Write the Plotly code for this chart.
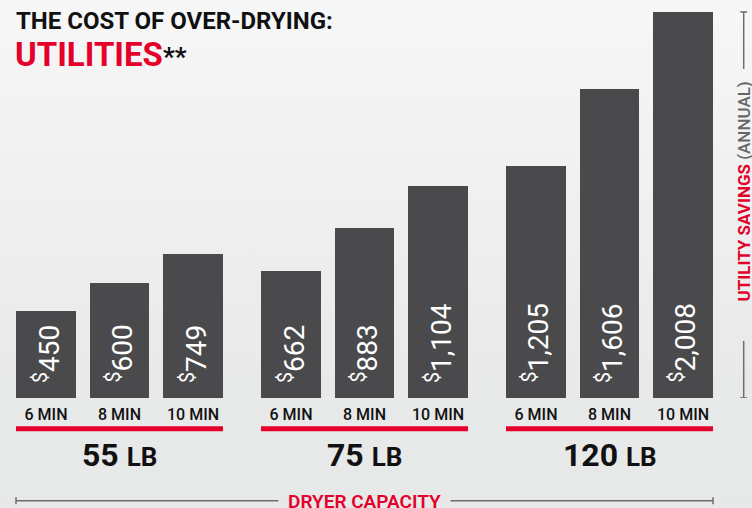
import base64
import plotly.graph_objects as go

# ---------------- data ----------------
capacities = ["55", "75", "120"]
capacity_unit = "LB"
durations = ["6 MIN", "8 MIN", "10 MIN"]
savings_55lb = [450, 600, 749]
savings_75lb = [662, 883, 1104]
savings_120lb = [1205, 1606, 2008]
title_line1 = "THE COST OF OVER-DRYING:"
title_line2 = "UTILITIES"
y_title_main = "UTILITY SAVINGS"
y_title_sub = "(ANNUAL)"
x_title = "DRYER CAPACITY"

series = [savings_55lb, savings_75lb, savings_120lb]

# ---------------- style / layout ----------------
W, H = 752, 508
PLOT_BOTTOM_PX = 398
BAR_COLOR = "#4a4a4c"
RED = "#e5002b"
FONT = "Roboto"
GROUP_GAP = 1 / 3
BAR_W = 0.816
PX_PER_UNIT = 73.5
X_ORIGIN_PX = 46
Y_MAX = 2070

def px_to_paper_y(py):
    return (PLOT_BOTTOM_PX - py) / PLOT_BOTTOM_PX

def px_to_paper_x(px):
    return px / W

n = len(durations)
xs, ys, labels = [], [], []
for g, vals in enumerate(series):
    for i, v in enumerate(vals):
        xs.append(g * (n + GROUP_GAP) + i)
        ys.append(v)
        labels.append(durations[i])

fig = go.Figure()
fig.add_trace(go.Bar(x=xs, y=ys, width=BAR_W, marker=dict(color=BAR_COLOR, line=dict(width=0)),
                     hoverinfo="skip", showlegend=False))

annotations = []
# value labels inside bars
for x, v in zip(xs, ys):
    annotations.append(dict(
        x=x, y=0, xref="x", yref="y", text=f"<sup>$</sup>{v:,}", textangle=-90,
        showarrow=False, xanchor="center", yanchor="bottom", yshift=14, xshift=1,
        font=dict(family=FONT, size=28, color="white"), borderpad=0))

# group labels
for g, cap in enumerate(capacities):
    cx = g * (n + GROUP_GAP) + (n - 1) / 2
    annotations.append(dict(
        x=cx, y=px_to_paper_y(455), xref="x", yref="paper",
        text=f"{cap} <span style='font-size:26px'>{capacity_unit}</span>",
        showarrow=False, xanchor="center", yanchor="middle",
        font=dict(family=FONT, size=32, color="#111", weight=700)))

# titles
annotations.append(dict(x=px_to_paper_x(15), y=px_to_paper_y(21), xref="paper", yref="paper",
                        text=title_line1, showarrow=False, xanchor="left", yanchor="middle",
                        borderpad=0, font=dict(family=FONT, size=24, color="#111", weight=700)))
annotations.append(dict(x=px_to_paper_x(14), y=px_to_paper_y(54), xref="paper", yref="paper",
                        text=f"{title_line2}<span style='font-size:26px;color:#111'>**</span>",
                        showarrow=False, xanchor="left", yanchor="middle",
                        borderpad=0, font=dict(family=FONT, size=33, color=RED, weight=700)))

# right axis title
vmax = max(ys)
annotations.append(dict(x=px_to_paper_x(743.5), y=vmax / 2, xref="paper", yref="y",
                        text=f"<b>{y_title_main}</b> <span style='color:#666'>{y_title_sub}</span>",
                        textangle=-90, showarrow=False, xanchor="center", yanchor="middle",
                        borderpad=0, yshift=13,
                        font=dict(family=FONT, size=17, color=RED, weight=500)))

# bottom axis title
x_left = xs[0] - BAR_W / 2
x_right = xs[-1] + BAR_W / 2
x_mid = (x_left + x_right) / 2
annotations.append(dict(x=x_mid, y=px_to_paper_y(501), xref="x", yref="paper",
                        text=x_title, showarrow=False, xanchor="center", yanchor="middle",
                        font=dict(family=FONT, size=19, color=RED, weight=600)))

shapes = []
LINE_GREY = "#6e6e6e"
# red underline per group
for g in range(len(capacities)):
    x0 = g * (n + GROUP_GAP) - BAR_W / 2
    x1 = g * (n + GROUP_GAP) + (n - 1) + BAR_W / 2
    shapes.append(dict(type="line", xref="x", yref="paper", x0=x0, x1=x1,
                       y0=px_to_paper_y(428.7), y1=px_to_paper_y(428.7),
                       line=dict(color=RED, width=5)))

# bottom dimension line
half_gap_x = 86 / PX_PER_UNIT
yb = px_to_paper_y(500.7)
shapes += [
    dict(type="line", xref="x", yref="paper", x0=x_left, x1=x_mid - half_gap_x, y0=yb, y1=yb,
         line=dict(color=LINE_GREY, width=1.5)),
    dict(type="line", xref="x", yref="paper", x0=x_mid + half_gap_x, x1=x_right, y0=yb, y1=yb,
         line=dict(color=LINE_GREY, width=1.5)),
    dict(type="line", xref="x", yref="paper", x0=x_left, x1=x_left,
         y0=yb - 3.5 / PLOT_BOTTOM_PX, y1=yb + 3.5 / PLOT_BOTTOM_PX, line=dict(color=LINE_GREY, width=1.5)),
    dict(type="line", xref="x", yref="paper", x0=x_right, x1=x_right,
         y0=yb - 3.5 / PLOT_BOTTOM_PX, y1=yb + 3.5 / PLOT_BOTTOM_PX, line=dict(color=LINE_GREY, width=1.5)),
]

# right dimension line
xr = px_to_paper_x(743.7)
half_gap_y = 136 * Y_MAX / PLOT_BOTTOM_PX
ymid = vmax / 2
tick_dx = 3.5 / W
shapes += [
    dict(type="line", xref="paper", yref="y", x0=xr, x1=xr, y0=0, y1=ymid - half_gap_y,
         line=dict(color=LINE_GREY, width=1.5)),
    dict(type="line", xref="paper", yref="y", x0=xr, x1=xr, y0=ymid + half_gap_y, y1=vmax,
         line=dict(color=LINE_GREY, width=1.5)),
    dict(type="line", xref="paper", yref="y", x0=xr - tick_dx, x1=xr + tick_dx, y0=0, y1=0,
         line=dict(color=LINE_GREY, width=1.5)),
    dict(type="line", xref="paper", yref="y", x0=xr - tick_dx, x1=xr + tick_dx, y0=vmax, y1=vmax,
         line=dict(color=LINE_GREY, width=1.5)),
]

# background gradient
svg = (f"<svg xmlns='http://www.w3.org/2000/svg' width='{W}' height='{H}' preserveAspectRatio='none'>"
       "<defs><linearGradient id='g' x1='0' y1='0' x2='0' y2='1'>"
       "<stop offset='0' stop-color='#f7f7f7'/><stop offset='0.75' stop-color='#e8e9e9'/>"
       "<stop offset='1' stop-color='#e7e8e8'/></linearGradient></defs>"
       f"<rect width='{W}' height='{H}' fill='url(#g)'/></svg>")
bg_src = "data:image/svg+xml;base64," + base64.b64encode(svg.encode()).decode()

fig.update_layout(
    width=W, height=H,
    margin=dict(l=0, r=0, t=0, b=H - PLOT_BOTTOM_PX, pad=0),
    paper_bgcolor="#eeeeee", plot_bgcolor="rgba(0,0,0,0)",
    bargap=0,
    xaxis=dict(range=[-X_ORIGIN_PX / PX_PER_UNIT, (W - X_ORIGIN_PX) / PX_PER_UNIT],
               tickvals=xs, ticktext=labels, showgrid=False, zeroline=False, showline=False,
               ticks="outside", ticklen=2, tickcolor="rgba(0,0,0,0)",
               tickfont=dict(family=FONT, size=16, color="#111", weight=500), fixedrange=True),
    yaxis=dict(range=[0, Y_MAX], visible=False, fixedrange=True),
    annotations=annotations,
    shapes=shapes,
    images=[dict(source=bg_src, xref="paper", yref="paper", x=0, y=1, sizex=1,
                 sizey=H / PLOT_BOTTOM_PX, xanchor="left", yanchor="top", sizing="stretch",
                 layer="below")],
)

fig.write_html("out.html", config={"displayModeBar": False},
               post_script="document.body.style.margin='0';document.body.style.overflow='hidden';")
